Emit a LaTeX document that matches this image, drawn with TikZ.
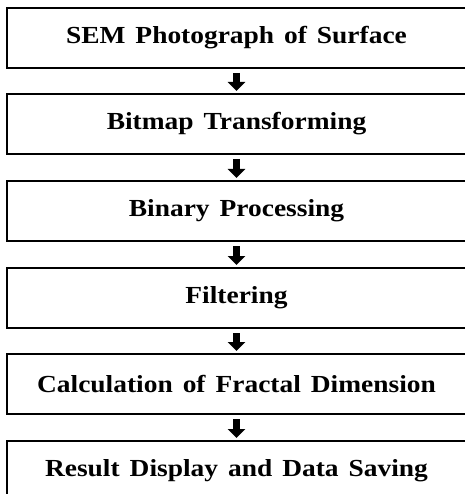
\documentclass[tikz,border=0pt]{standalone}
\usepackage{fontspec}
\setmainfont{Liberation Serif}[FakeStretch=1.12,WordSpace=1.45]
\usetikzlibrary{arrows.meta}

\begin{document}
\begin{tikzpicture}[x=1pt,y=1pt,
        stagebox/.style={minimum width=459pt,minimum height=60pt,inner sep=0pt,outer sep=0pt,
            font=\fontsize{24.5}{28}\selectfont\bfseries},
        boxline/.style={line width=1.2pt},
        flow/.style={line width=6.5pt,-{Triangle[width=17pt,length=9pt]},shorten <=5pt,shorten >=3pt}]
        % page frame, the boxes run out on the right and at the bottom
        \useasboundingbox (0,0) rectangle (464,-494);
        % draw the stages
        \node[stagebox] (sem) at (236.5,-38) {SEM Photograph of Surface};
        \node[stagebox] (bitmap) at (236.5,-124) {Bitmap Transforming};
        \node[stagebox] (binary) at (236.5,-211) {Binary Processing};
        \node[stagebox] (filter) at (236.5,-298) {Filtering};
        \node[stagebox] (fractal) at (236.5,-384) {Calculation of Fractal Dimension};
        \node[stagebox] (result) at (236.5,-471) {Result Display and Data Saving};
        % draw the frames, open to the right
        \foreach \n in {sem,bitmap,binary,filter,fractal,result}
            \draw[boxline] (\n.north east) -| (\n.south west) -- (\n.south east);
        % draw the arrows
        \draw[flow] (sem) -- (bitmap);
        \draw[flow] (bitmap) -- (binary);
        \draw[flow] (binary) -- (filter);
        \draw[flow] (filter) -- (fractal);
        \draw[flow] (fractal) -- (result);
    \end{tikzpicture}
\end{document}
